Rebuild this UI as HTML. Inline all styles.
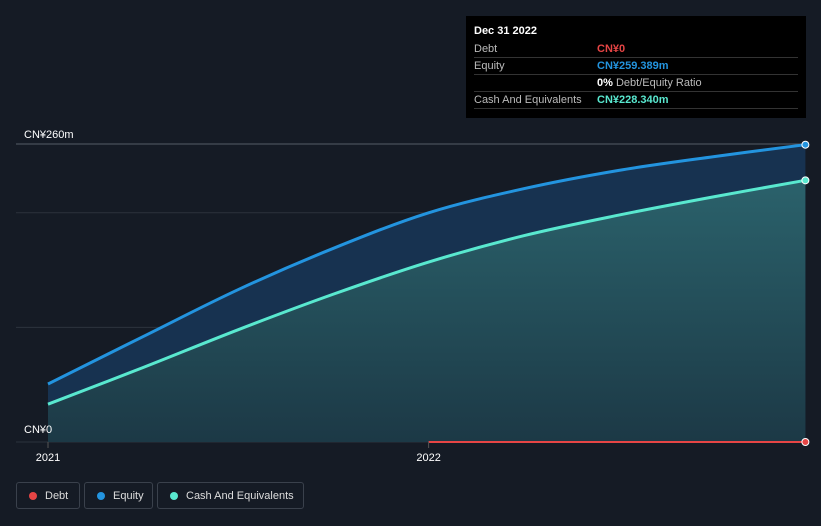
<!DOCTYPE html>
<html><head><meta charset="utf-8"><style>
body{margin:0;background:#151b25;font-family:"Liberation Sans",sans-serif;}
#wrap{position:relative;width:821px;height:526px;overflow:hidden;background:#151b25}
.tt{position:absolute;left:466px;top:16px;width:340px;height:102px;background:#000;color:#fff;font-size:11px}
.row{position:absolute;left:8px;right:8px;height:17px;border-bottom:1px solid #333;}
.row span{position:absolute;top:3px}
.leg{position:absolute;top:482px;height:27px;border:1px solid #3a414c;border-radius:3px;color:#ddd;font-size:11px;box-sizing:border-box}
.leg i{position:absolute;left:12px;top:9px;width:8px;height:8px;border-radius:50%}
.leg span{position:absolute;top:7px}
</style></head><body>
<div id="wrap">
<svg id="svg" width="821" height="526" style="position:absolute;left:0;top:0"></svg>
<div class="tt">
<div style="position:absolute;left:8px;top:9px;font-weight:bold">Dec 31 2022</div>
<div class="row" style="top:24px"><span style="left:0;color:#bbb">Debt</span><span style="left:123px;color:#e64545;font-weight:bold">CN¥0</span></div>
<div class="row" style="top:41px"><span style="left:0;color:#bbb">Equity</span><span style="left:123px;color:#2394df;font-weight:bold">CN¥259.389m</span></div>
<div class="row" style="top:58px"><span style="left:123px;color:#fff"><b>0%</b> <span style="position:static;color:#bbb">Debt/Equity Ratio</span></span></div>
<div class="row" style="top:75px"><span style="left:0;color:#bbb">Cash And Equivalents</span><span style="left:123px;color:#59e8cf;font-weight:bold">CN¥228.340m</span></div>
</div>
<div class="leg" style="left:16px;width:64px"><i style="background:#e64545"></i><span style="left:28px">Debt</span></div>
<div class="leg" style="left:84px;width:69px"><i style="background:#2394df"></i><span style="left:28px">Equity</span></div>
<div class="leg" style="left:157px;width:147px"><i style="background:#59e8cf"></i><span style="left:28px">Cash And Equivalents</span></div>
</div>
<script>
const dates=[2021.0,2021.25,2021.5,2021.75,2022.0,2022.25,2022.5,2022.75,2022.99];
const equity=[50.6,92,133,169,200,221,237,249,259.4];
const cash=[33,65,98,129,157,180,198,214,228.3];
const debtDates=[2022.0,2022.99];
const debt=[0,0];
const yTicks=[0,100,200,260];
const xTicks=[2021,2022];
const xTickLabels=["2021","2022"];
const X=d=>48+(d-2021)*380.6, Y=v=>442-v*298/260;
const svg=document.getElementById('svg'),NS="http://www.w3.org/2000/svg";
function mk(t,a,name){const e=document.createElementNS(NS,t);for(const k in a)e.setAttribute(k,a[k]);


svg.appendChild(e);return e;}
const defs=mk('defs',{},'defs');
defs.innerHTML='<linearGradient id="gc" x1="0" y1="0" x2="0" y2="1"><stop offset="0" stop-color="#2e6a70"/><stop offset="1" stop-color="#1d3a44"/></linearGradient>';
yTicks.forEach(t=>{mk('line',{x1:16,x2:805,y1:Y(t),y2:Y(t),stroke:t==260?'#555c66':'#2c333d','stroke-width':1},'gridline')});
function curve(xs,ys){const p=xs.map((d,i)=>[X(d),Y(ys[i])]);let s=`M${p[0][0]},${p[0][1]}`;
for(let i=0;i<p.length-1;i++){const p0=p[i-1]||p[i],p1=p[i],p2=p[i+1],p3=p[i+2]||p2;
s+=`C${p1[0]+(p2[0]-p0[0])/6},${p1[1]+(p2[1]-p0[1])/6} ${p2[0]-(p3[0]-p1[0])/6},${p2[1]-(p3[1]-p1[1])/6} ${p2[0]},${p2[1]}`;}return s;}
const eq=curve(dates,equity),ca=curve(dates,cash);
const base=`L${X(dates[dates.length-1])},${Y(0)}L${X(dates[0])},${Y(0)}Z`;
mk('path',{d:eq+base,fill:'#173250'},'equity-area');
mk('path',{d:ca+base,fill:'url(#gc)','fill-opacity':0.85},'cash-area');
mk('path',{d:eq,fill:'none',stroke:'#2394df','stroke-width':3},'equity-line');
mk('path',{d:ca,fill:'none',stroke:'#59e8cf','stroke-width':3},'cash-line');
mk('line',{x1:X(debtDates[0]),x2:X(debtDates[1]),y1:Y(debt[0]),y2:Y(debt[1]),stroke:'#e64545','stroke-width':2},'debt-line');
const L=dates.length-1;
mk('circle',{cx:X(dates[L]),cy:Y(equity[L]),r:3.5,fill:'#2394df',stroke:'#fff','stroke-width':1},'equity-end-point');
mk('circle',{cx:X(dates[L]),cy:Y(cash[L]),r:3.5,fill:'#59e8cf',stroke:'#fff','stroke-width':1},'cash-end-point');
mk('circle',{cx:X(debtDates[1]),cy:Y(debt[1]),r:3.5,fill:'#e64545',stroke:'#fff','stroke-width':1},'debt-end-point');
[[0,'CN¥0'],[260,'CN¥260m']].forEach(([v,l])=>{const t=mk('text',{x:24,y:Y(v)-8+(v==0?-1:2),fill:'#fff','font-size':11},'y-axis-label');t.textContent=l;});
xTicks.forEach((d,i)=>{mk('line',{x1:X(d),x2:X(d),y1:442,y2:448,stroke:'#555','stroke-width':1},'x-tick');
const t=mk('text',{x:X(d),y:461,fill:'#fff','font-size':11,'text-anchor':'middle'},'x-axis-label');t.textContent=xTickLabels[i];});
</script>
</body></html>
